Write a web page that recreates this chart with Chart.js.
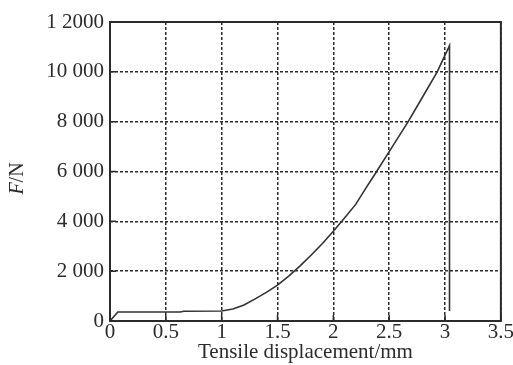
<!DOCTYPE html>
<html>
<head>
<meta charset="utf-8">
<script src="https://cdn.jsdelivr.net/npm/chart.js@4.4.1/dist/chart.umd.min.js"></script>
<style>
html, body { margin: 0; padding: 0; background: #fff; }
#wrap { width: 513px; height: 365px; }
</style>
</head>
<body>
<div id="wrap"><canvas id="chart"></canvas></div>
<script>
// tensile displacement (mm) and force (N)
var displacement = [0, 0.07, 0.63, 0.66, 1.0, 1.1, 1.2, 1.3, 1.4, 1.5, 1.6, 1.7, 1.8, 1.9, 2.0, 2.1, 2.2, 2.28, 2.38, 2.5, 2.67, 2.8, 2.93, 3.04, 3.04];
var force = [0, 360, 360, 390, 400, 480, 640, 890, 1150, 1440, 1800, 2200, 2640, 3100, 3600, 4130, 4680, 5250, 5950, 6800, 8000, 9000, 10000, 11050, 400];

var xTickLabels = ['0', '0.5', '1', '1.5', '2', '2.5', '3', '3.5'];
var yTickLabels = ['0', '2 000', '4 000', '6 000', '8 000', '10 000', '1 2000'];

var serif = '"Liberation Serif", "Times New Roman", serif';
var ink = '#2b2b2b';
var fontSize = 21;

var points = displacement.map(function (d, i) {
    return { x: d, y: force[i] };
});

/**
 * Frame, inward tick marks and the F/N title
 */
var framePlugin = {
    id: 'frame',
    afterDraw: function (chart) {
        var ctx = chart.ctx;
        var a = chart.chartArea;
        var xs = chart.scales.x;
        var ys = chart.scales.y;
        ctx.save();
        ctx.strokeStyle = ink;
        ctx.lineWidth = 2;
        ctx.strokeRect(a.left, a.top, a.right - a.left, a.bottom - a.top);

        ctx.lineWidth = 1.5;
        ctx.beginPath();
        xs.ticks.forEach(function (t) {
            var px = xs.getPixelForValue(t.value);
            ctx.moveTo(px, a.bottom);
            ctx.lineTo(px, a.bottom - 6);
        });
        ys.ticks.forEach(function (t) {
            var py = ys.getPixelForValue(t.value);
            ctx.moveTo(a.left, py);
            ctx.lineTo(a.left + 6, py);
        });
        ctx.stroke();

        // y title: italic F, upright /N
        ctx.translate(18, (a.top + a.bottom) / 2 + 7);
        ctx.rotate(-Math.PI / 2);
        ctx.fillStyle = ink;
        ctx.textBaseline = 'middle';
        ctx.font = 'italic 20px ' + serif;
        var wF = ctx.measureText('F').width;
        ctx.font = '20px ' + serif;
        var wN = ctx.measureText('/N').width;
        var x0 = -(wF + wN) / 2;
        ctx.font = 'italic 20px ' + serif;
        ctx.fillText('F', x0, 0);
        ctx.font = '20px ' + serif;
        ctx.fillText('/N', x0 + wF, 0);
        ctx.restore();
    }
};

new Chart(document.getElementById('chart').getContext('2d'), {
    type: 'scatter',
    data: {
        datasets: [{
            data: points,
            showLine: true,
            borderColor: '#333',
            borderWidth: 1.6,
            pointRadius: 0,
            tension: 0,
            fill: false
        }]
    },
    options: {
        responsive: true,
        maintainAspectRatio: false,
        animation: false,
        layout: { padding: { top: 22, right: 11, bottom: 0, left: 0 } },
        plugins: {
            legend: { display: false },
            tooltip: { enabled: false }
        },
        scales: {
            x: {
                type: 'linear',
                min: 0,
                max: 3.5,
                ticks: {
                    stepSize: 0.5,
                    color: ink,
                    padding: -1,
                    font: { family: serif, size: fontSize },
                    callback: function (v, i) { return xTickLabels[i]; }
                },
                grid: {
                    color: ink,
                    lineWidth: 1.5,
                    tickLength: 0,
                    drawTicks: false
                },
                border: { display: false, dash: [3, 2] },
                title: {
                    display: true,
                    text: 'Tensile displacement/mm',
                    color: ink,
                    padding: { top: -6, bottom: 0 },
                    font: { family: serif, size: fontSize }
                },
                afterFit: function (s) { s.height = 44; }
            },
            y: {
                type: 'linear',
                min: 0,
                max: 12000,
                ticks: {
                    stepSize: 2000,
                    color: ink,
                    padding: 6,
                    font: { family: serif, size: fontSize },
                    callback: function (v, i) { return yTickLabels[i]; }
                },
                grid: {
                    color: ink,
                    lineWidth: 1.5,
                    drawTicks: false
                },
                border: { display: false, dash: [3, 2] },
                afterFit: function (s) { s.width = 110; }
            }
        }
    },
    plugins: [framePlugin]
});
</script>
</body>
</html>
